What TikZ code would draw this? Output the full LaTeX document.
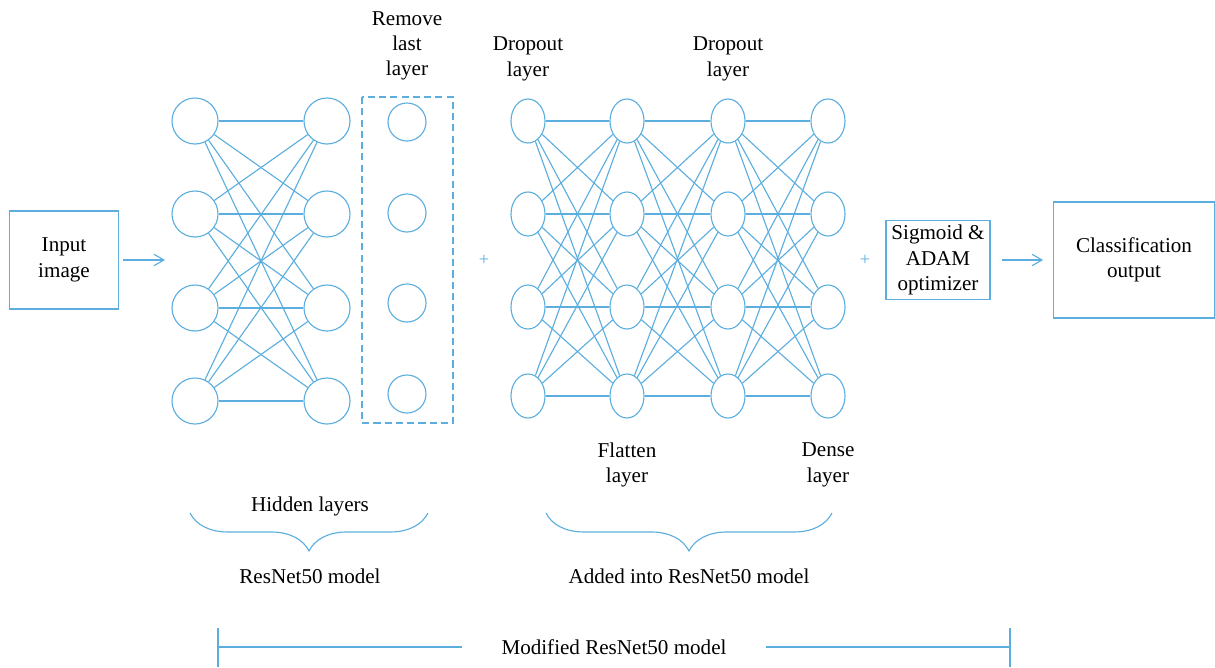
\documentclass[tikz,border=0pt]{standalone}
\usepackage{fontspec}
\setmainfont{Liberation Serif}
\usepackage{tikz}
\usetikzlibrary{positioning, arrows.meta, shapes.geometric, decorations.pathreplacing}
\definecolor{netblue}{RGB}{91,174,222}

\begin{document}
\begin{tikzpicture}[x=0.025cm, y=-0.025cm, >={Straight Barb[length=7pt,angle'=60]},
                line width=0.8pt, font=\fontsize{15}{18}\selectfont,
                neuron/.style={circle, draw=netblue, minimum size=1.15cm, inner sep=0pt},
                dropped/.style={circle, draw=netblue, minimum size=0.95cm, inner sep=0pt},
                unit/.style={ellipse, draw=netblue, minimum width=0.85cm, minimum height=1.1cm, inner sep=0pt},
                box/.style={draw=netblue, align=center, inner sep=0pt},
                txt/.style={align=center, inner sep=0pt},
                link/.style={netblue}]

                \useasboundingbox (0,0) rectangle (1215,667);

                % input and output boxes
                \node[box, minimum width=2.725cm, minimum height=2.45cm] (input) at (64,260) {Input\\image};
                \node[box, minimum width=2.6cm, minimum height=1.975cm] (sigmoid) at (938,260) {Sigmoid \&\\ADAM\\optimizer};
                \node[box, minimum width=4.025cm, minimum height=2.9cm] (output) at (1134,260) {Classification\\output};

                % resnet50 part
                \foreach \y [count=\i] in {121,214,308,401} {
                    \node[neuron] (a\i) at (195,\y) {};
                    \node[neuron] (b\i) at (327,\y) {};
                }
                \foreach \y [count=\i] in {122,213,303,394}
                    \node[dropped] (r\i) at (407,\y) {};
                \draw[netblue, dashed, dash pattern=on 5pt off 3pt] (362,97) rectangle (453,423);

                % added layers
                \foreach \y [count=\i] in {121,214,307,396} {
                    \node[unit] (d\i) at (528,\y) {};
                    \node[unit] (f\i) at (627,\y) {};
                    \node[unit] (p\i) at (728,\y) {};
                    \node[unit] (n\i) at (828,\y) {};
                }

                \foreach \i in {1,...,4}
                    \foreach \j in {1,...,4} {
                        \draw[link] (a\i) -- (b\j);
                        \draw[link] (d\i) -- (f\j);
                        \draw[link] (f\i) -- (p\j);
                        \draw[link] (p\i) -- (n\j);
                    }

                \node[netblue, font=\fontsize{13}{13}\selectfont] (plusA) at (484,260) {+};
                \node[netblue, font=\fontsize{13}{13}\selectfont] (plusB) at (865,260) {+};

                % arrows
                \coordinate (netin) at (165,260);
                \draw[link, ->] (input) -- (netin) [shorten <=3pt];
                \draw[link, ->, shorten <=8pt, shorten >=7pt] (sigmoid) -- (output);

                % layer labels
                \node[txt] (remove) at (407,46) {Remove\\last\\layer};
                \node[txt] (dropA) at (528,59) {Dropout\\layer};
                \node[txt] (dropB) at (728,59) {Dropout\\layer};
                \node[txt] (flatten) at (627,465) {Flatten\\layer};
                \node[txt] (dense) at (828,465) {Dense\\layer};

                % braces
                \node[txt] (hidden) at (310,506) {Hidden layers};
                \draw[link, decorate, decoration={brace, mirror, amplitude=27pt}] (190,513) -- (428,513);
                \node[txt] (resnet) at (310,576) {ResNet50 model};
                \draw[link, decorate, decoration={brace, mirror, amplitude=27pt}] (546,513) -- (832,513);
                \node[txt] (added) at (689,576) {Added into ResNet50 model};

                % modified model span
                \node[txt, inner xsep=28pt] (modified) at (614,647) {Modified ResNet50 model};
                \coordinate (mL) at (218,647);
                \coordinate (mR) at (1010,647);
                \draw[link] (218,628) -- (218,667);
                \draw[link] (1010,628) -- (1010,667);
                \draw[link] (mL) -- (modified);
                \draw[link] (modified) -- (mR);

\end{tikzpicture}
\end{document}
